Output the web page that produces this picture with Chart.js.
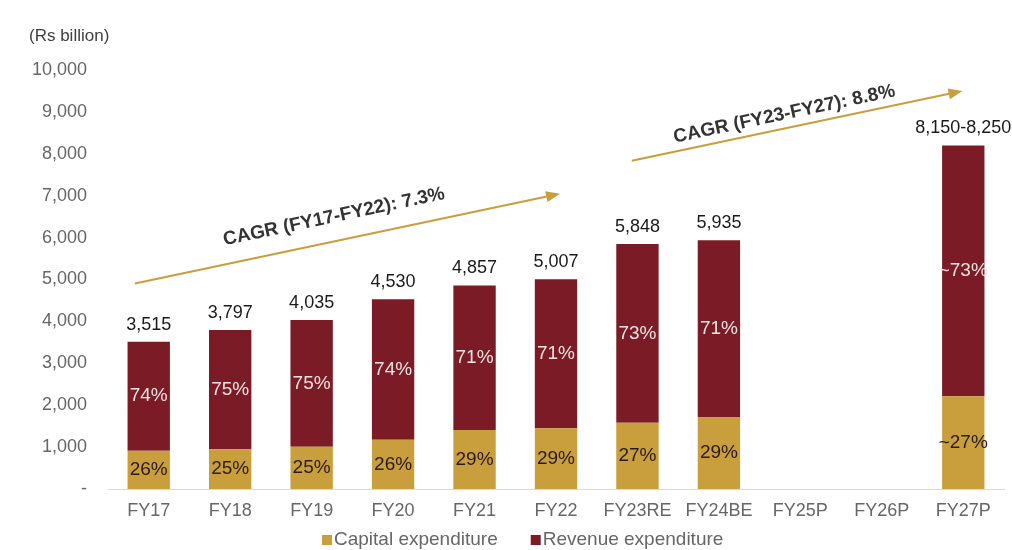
<!DOCTYPE html>
<html>
    <head>
        <meta charset="UTF-8">
        <title>Expenditure FY17-FY27P</title>
        <script src="https://cdn.jsdelivr.net/npm/chart.js"></script>
        <style>
            html, body { margin: 0; padding: 0; background: #fff; }
            #wrap { width: 1012px; height: 550px; }
        </style>
    </head>
    <body>
        <div id="wrap"><canvas id="expChart"></canvas></div>

        <script>
            // data (Rs billion)
            const years = ['FY17', 'FY18', 'FY19', 'FY20', 'FY21', 'FY22', 'FY23RE', 'FY24BE', 'FY25P', 'FY26P', 'FY27P'];
            const capitalExp = [914, 949, 1009, 1178, 1409, 1452, 1579, 1721, null, null, 2214];
            const revenueExp = [2601, 2848, 3026, 3352, 3448, 3555, 4269, 4214, null, null, 5986];
            const totalLabels = ['3,515', '3,797', '4,035', '4,530', '4,857', '5,007', '5,848', '5,935', '', '', '8,150-8,250'];
            const capitalPct = ['26%', '25%', '25%', '26%', '29%', '29%', '27%', '29%', '', '', '~27%'];
            const revenuePct = ['74%', '75%', '75%', '74%', '71%', '71%', '73%', '71%', '', '', '~73%'];
            const yTicks = [0, 1000, 2000, 3000, 4000, 5000, 6000, 7000, 8000, 9000, 10000];

            const FONT = "'Liberation Sans', Arial, sans-serif";
            const GOLD = '#C99E3C';
            const MAROON = '#7B1B25';

            // CAGR arrows, ends given in (category index, value)
            const arrows = [
                { from: [-0.17, 4905], to: [5.05, 7048], text: 'CAGR (FY17-FY22): 7.3%', at: 0.48, lift: 24 },
                { from: [5.93, 7833], to: [9.99, 9500], text: 'CAGR (FY23-FY27): 8.8%', at: 0.47, lift: 14 }
            ];

            const labelPlugin = {
                id: 'labels',
                afterDatasetsDraw(chart) {
                    const ctx = chart.ctx;
                    ctx.save();
                    ctx.textAlign = 'center';
                    ctx.textBaseline = 'middle';
                    const capMeta = chart.getDatasetMeta(0);
                    const revMeta = chart.getDatasetMeta(1);
                    ctx.font = '19px ' + FONT;
                    capMeta.data.forEach((bar, i) => {
                        if (!capitalPct[i]) return;
                        ctx.fillStyle = '#2b1b12';
                        ctx.fillText(capitalPct[i], bar.x, (bar.y + bar.base) / 2);
                    });
                    revMeta.data.forEach((bar, i) => {
                        if (!revenuePct[i]) return;
                        ctx.font = '19px ' + FONT;
                        ctx.fillStyle = '#f3e2e2';
                        ctx.fillText(revenuePct[i], bar.x, (bar.y + bar.base) / 2);
                        ctx.font = '18px ' + FONT;
                        ctx.fillStyle = '#1a1a1a';
                        ctx.textBaseline = 'bottom';
                        ctx.fillText(totalLabels[i], bar.x, bar.y - 8);
                        ctx.textBaseline = 'middle';
                    });

                    // unit label
                    ctx.font = '17px ' + FONT;
                    ctx.fillStyle = '#404040';
                    ctx.textAlign = 'left';
                    ctx.fillText('(Rs billion)', 29, 36);

                    // legend, drawn by hand to get the wide gap between items
                    ctx.font = '19px ' + FONT;
                    let lx = 322;
                    chart.data.datasets.forEach((ds) => {
                        ctx.fillStyle = ds.backgroundColor;
                        ctx.fillRect(lx, 535, 10, 10);
                        ctx.fillStyle = '#666';
                        ctx.fillText(ds.label, lx + 12, 540);
                        lx += 12 + ctx.measureText(ds.label).width + 33;
                    });

                    // arrows
                    const xs = chart.scales.x, ys = chart.scales.y;
                    for (const a of arrows) {
                        const x1 = xs.getPixelForValue(a.from[0]), y1 = ys.getPixelForValue(a.from[1]);
                        const x2 = xs.getPixelForValue(a.to[0]), y2 = ys.getPixelForValue(a.to[1]);
                        const ang = Math.atan2(y2 - y1, x2 - x1);
                        ctx.strokeStyle = GOLD;
                        ctx.fillStyle = GOLD;
                        ctx.lineWidth = 2;
                        ctx.beginPath();
                        ctx.moveTo(x1, y1);
                        ctx.lineTo(x2 - 10 * Math.cos(ang), y2 - 10 * Math.sin(ang));
                        ctx.stroke();
                        ctx.save();
                        ctx.translate(x2, y2);
                        ctx.rotate(ang);
                        ctx.beginPath();
                        ctx.moveTo(0, 0);
                        ctx.lineTo(-14, -5.5);
                        ctx.lineTo(-14, 5.5);
                        ctx.closePath();
                        ctx.fill();
                        ctx.restore();

                        const tx = x1 + (x2 - x1) * a.at, ty = y1 + (y2 - y1) * a.at;
                        ctx.save();
                        ctx.translate(tx, ty);
                        ctx.rotate(ang);
                        ctx.font = 'bold 19px ' + FONT;
                        ctx.fillStyle = '#333';
                        ctx.textAlign = 'center';
                        ctx.textBaseline = 'middle';
                        ctx.fillText(a.text, 0, -a.lift);
                        ctx.restore();
                    }
                    ctx.restore();
                }
            };

            new Chart(document.getElementById('expChart'), {
                type: 'bar',
                data: {
                    labels: years,
                    datasets: [
                        { label: 'Capital expenditure', data: capitalExp, backgroundColor: GOLD },
                        { label: 'Revenue expenditure', data: revenueExp, backgroundColor: MAROON }
                    ]
                },
                options: {
                    responsive: true,
                    maintainAspectRatio: false,
                    animation: false,
                    datasets: { bar: { categoryPercentage: 1, barPercentage: 0.52 } },
                    layout: { padding: { top: 70, right: 8, bottom: 29, left: 0 } },
                    plugins: {
                        tooltip: { enabled: false },
                        legend: { display: false }
                    },
                    scales: {
                        x: {
                            stacked: true,
                            afterFit(scale) { scale.height = 32; },
                            grid: { display: false, drawTicks: false },
                            border: { color: '#d9d9d9' },
                            ticks: { color: '#666', padding: 11, font: { family: FONT, size: 18 } }
                        },
                        y: {
                            stacked: true,
                            min: 0,
                            max: 10000,
                            afterFit(scale) { scale.width = 108; },
                            afterBuildTicks(scale) { scale.ticks = yTicks.map(v => ({ value: v })); },
                            grid: { display: false, drawTicks: false },
                            border: { display: false },
                            ticks: {
                                color: '#666',
                                padding: 21,
                                font: { family: FONT, size: 18 },
                                callback: (v) => v === 0 ? '-' : v.toLocaleString('en-US')
                            }
                        }
                    }
                },
                plugins: [labelPlugin]
            });
        </script>
    </body>
</html>
